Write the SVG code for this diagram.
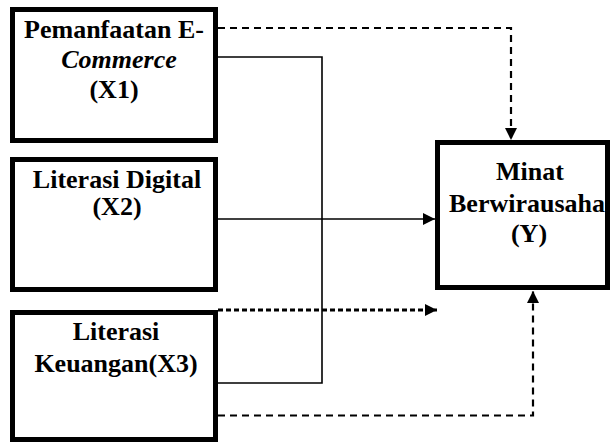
<svg xmlns="http://www.w3.org/2000/svg" width="614" height="443" viewBox="0 0 614 443">
<style>
.box{fill:#fff;stroke:#000;stroke-width:5}
.t{font-family:"Liberation Serif","Times New Roman",serif;font-weight:bold;font-size:26px;fill:#000;text-anchor:middle}
.solid{fill:none;stroke:#000;stroke-width:1.6}
.dash{fill:none;stroke:#000;stroke-width:2.2;stroke-dasharray:7 5}
.dash2{fill:none;stroke:#000;stroke-width:2.8;stroke-dasharray:5 3}
</style>
<defs>
<marker id="ah" markerWidth="12" markerHeight="12" viewBox="0 0 12 12" refX="12" refY="6" orient="auto" markerUnits="userSpaceOnUse">
<path d="M0,0 L12,6 L0,12 Z" fill="#000"/>
</marker>
</defs>
<g id="connectors">
<path class="dash" d="M218,28 H511 V140" marker-end="url(#ah)"/>
<path class="solid" d="M218,57 H322 V383 H218"/>
<path class="solid" d="M218,219 H435" marker-end="url(#ah)"/>
<path class="dash2" d="M218,310 H437" marker-end="url(#ah)"/>
<path class="dash" d="M218,415.5 H533 V291" marker-end="url(#ah)"/>
</g>
<g id="x1">
<rect class="box" x="12.5" y="9.5" width="203" height="131"/>
<text class="t" x="114" y="38">Pemanfaatan E-</text>
<text class="t" x="119" y="68" font-style="italic">Commerce</text>
<text class="t" x="114" y="98">(X1)</text>
</g>
<g id="x2">
<rect class="box" x="12.5" y="159.5" width="203" height="130"/>
<text class="t" x="117" y="188">Literasi Digital</text>
<text class="t" x="117" y="215">(X2)</text>
</g>
<g id="x3">
<rect class="box" x="12.5" y="312.5" width="203" height="127"/>
<text class="t" x="116" y="340">Literasi</text>
<text class="t" x="116" y="372">Keuangan(X3)</text>
</g>
<g id="y">
<rect class="box" x="437.5" y="142.5" width="170" height="145"/>
<text class="t" x="530" y="180">Minat</text>
<text class="t" x="527" y="212">Berwirausaha</text>
<text class="t" x="529" y="242">(Y)</text>
</g>
</svg>
